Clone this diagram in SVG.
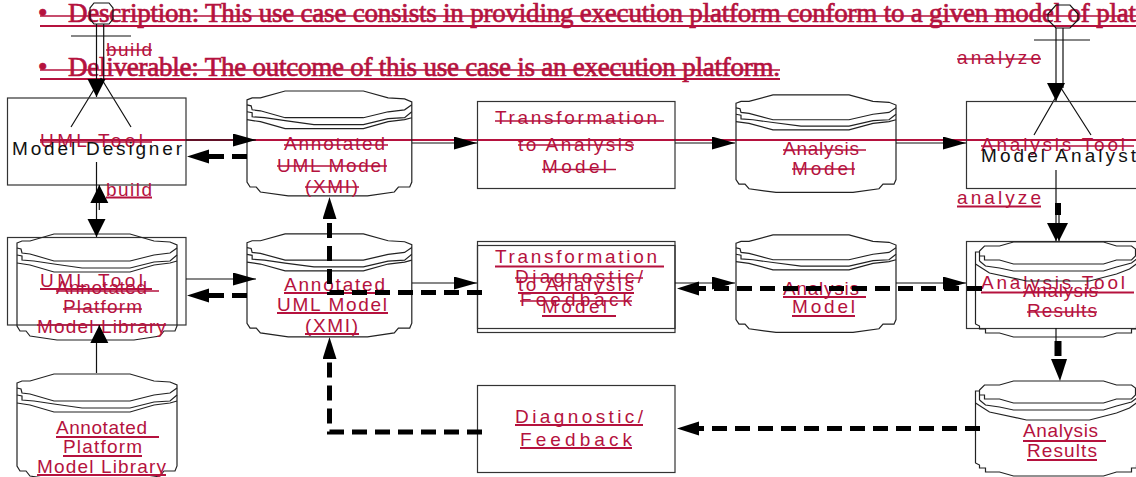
<svg xmlns="http://www.w3.org/2000/svg" width="1136" height="477" viewBox="0 0 1136 477">
<style>
text{font-family:"Liberation Sans",Arial,sans-serif;font-size:19px;fill:#b5123e}
.k{fill:#111}
.b{font-family:"Liberation Serif","Times New Roman",serif;font-size:27px;stroke:#b5123e;stroke-width:.7px}
.box{fill:none;stroke:#333;stroke-width:1.2}
.db{fill:none;stroke:#222;stroke-width:1.2;vector-effect:non-scaling-stroke}
.u{stroke:#b5123e;stroke-width:2.2}
.s{stroke:#b5123e;stroke-width:1.5}
.t{fill:none;stroke:#111;stroke-width:1.2}
.h{fill:none;stroke:#000;stroke-width:5;stroke-dasharray:15 8}
.ah{marker-end:url(#a)}
.ahh{marker-end:url(#ah)}
.ad{marker-end:url(#ad)}
</style>
<defs>
<marker id="a" markerUnits="userSpaceOnUse" markerWidth="24" markerHeight="14" refX="23" refY="6.500" orient="auto"><path d="M0,0L23,6.500L0,13Z" fill="#000"/></marker>
<marker id="ah" markerUnits="userSpaceOnUse" markerWidth="24" markerHeight="16" refX="0" refY="7" orient="auto"><path d="M0,0L22,7L0,14Z" fill="#000"/></marker>
<marker id="ad" markerUnits="userSpaceOnUse" markerWidth="20" markerHeight="20" refX="18" refY="9" orient="auto"><path d="M0,0L18,9L0,18Z" fill="#000"/></marker>
<g id="store">
<path class="db" d="M0,10L5,8L13,8L37,1L113,1L137,8L153,9L160,12L160,93L158,98L147,98L143,103L117,107L40,107L13,103L9,98L3,98L0,93Z"/>
<path class="db" d="M0,15L4,16L5,20L13,21L37,28L113,28L137,22L153,20L160,15"/>
<path class="db" d="M0,22L5,23L5,27L17,28L37,31L65,35L113,35L137,29L153,28L160,22"/>
<path class="db" d="M0,30L13,32L37,39L113,39L137,32L153,30L160,28"/>
</g>
<g id="store2">
<path class="db" d="M4,10H0V82L4,84V87H10V91H24L38,95H128L141,91H156V87H161V84L165,82V10H160"/>
<path class="db" d="M4,19V9L9,4H24L38,0H128L141,4H156L160,7V14L156,18H141L128,22H38L24,18H9V14H4V9"/>
<path class="db" d="M4,19L10,24L24,26L38,29H128L141,25L156,21L165,14"/>
<path class="db" d="M0,22L14,31L51,39H114L141,32L154,27L165,19"/>
</g>
</defs>

<g id="bullets">
<text class="b" x="38" y="22">•</text>
<text class="b" x="68" y="22" textLength="1068" lengthAdjust="spacing">Description: This use case consists in providing execution platform conform to a given model of plat</text>
<line class="s" x1="40" y1="16" x2="1136" y2="16"/>
<line class="u" x1="40" y1="26" x2="1136" y2="26"/>
<text class="b" x="38" y="76">•</text>
<text class="b" x="68" y="76" textLength="712" lengthAdjust="spacing">Deliverable: The outcome of this use case is an execution platform.</text>
<line class="s" x1="40" y1="70" x2="780" y2="70"/>
<line class="u" x1="40" y1="79" x2="780" y2="79"/>
<line class="u" x1="40" y1="140" x2="1136" y2="140"/>
</g>

<g id="actor-designer">
<path class="t" d="M94,3L109,3L113,8L113,19L109,24L94,24L90,19L90,8Z"/>
<path class="t" d="M103.700,24V80M71,36H131M101,78L71,127M101,78L131,127"/>
</g>
<g id="actor-analyst">
<path class="t" d="M1056,5L1070,5L1078,14L1078,20L1070,28L1056,28L1048,20L1048,14Z"/>
<path class="t" d="M1063,28V88M1034,40H1090M1061,88L1034,135M1061,88L1091,135"/>
</g>

<g id="n-model-designer">
<rect class="box" x="7.500" y="98" width="178.500" height="87"/>
<text x="40" y="147" textLength="103" lengthAdjust="spacing">UML Tool</text>
<line class="s" x1="40" y1="142" x2="152" y2="142"/>
<text class="k" x="12" y="155" textLength="170" lengthAdjust="spacing">Model Designer</text>
</g>
<g id="n-uml-tool">
<rect class="box" x="7.500" y="237.500" width="178.500" height="87.500"/>
<text x="40" y="287" textLength="103" lengthAdjust="spacing">UML Tool</text>
<line class="u" x1="40" y1="289" x2="152" y2="289"/>
</g>
<g id="n-platform-1">
<use href="#store" transform="translate(17,233)"/>
<text x="56" y="294" textLength="91" lengthAdjust="spacing">Annotated</text>
<line class="s" x1="56" y1="291" x2="159" y2="291"/>
<text x="63" y="313" textLength="79" lengthAdjust="spacing">Platform</text>
<line class="s" x1="63" y1="309" x2="142" y2="309"/>
<text x="37" y="333" textLength="129" lengthAdjust="spacing">Model Library</text>
<line class="s" x1="37" y1="325" x2="166" y2="325"/>
</g>
<g id="n-platform-2">
<use href="#store" transform="translate(17,373)"/>
<text x="56" y="434" textLength="91" lengthAdjust="spacing">Annotated</text>
<line class="u" x1="56" y1="437" x2="159" y2="437"/>
<text x="63" y="453" textLength="79" lengthAdjust="spacing">Platform</text>
<line class="u" x1="63" y1="456" x2="142" y2="456"/>
<text x="37" y="472.500" textLength="129" lengthAdjust="spacing">Model Library</text>
<line class="u" x1="37" y1="475" x2="166" y2="475"/>
</g>
<g id="n-annotated-1">
<use href="#store" transform="translate(247,90) scale(1.03,.99)"/>
<text x="284" y="150" textLength="101" lengthAdjust="spacing">Annotated</text>
<line class="s" x1="284" y1="145" x2="388" y2="145"/>
<text x="277" y="172" textLength="110" lengthAdjust="spacing">UML Model</text>
<line class="s" x1="277" y1="166" x2="387" y2="166"/>
<text x="305" y="193" textLength="53" lengthAdjust="spacing">(XMI)</text>
<line class="s" x1="305" y1="187" x2="359" y2="187"/>
</g>
<g id="n-annotated-2">
<use href="#store" transform="translate(247,233) scale(1.03,.97)"/>
<text x="284" y="291" textLength="101" lengthAdjust="spacing">Annotated</text>
<line class="u" x1="284" y1="293" x2="388" y2="293"/>
<text x="277" y="311" textLength="110" lengthAdjust="spacing">UML Model</text>
<line class="u" x1="277" y1="313" x2="388" y2="313"/>
<text x="305" y="332" textLength="53" lengthAdjust="spacing">(XMI)</text>
<line class="u" x1="305" y1="334" x2="359" y2="334"/>
</g>
<g id="n-transformation-1">
<rect class="box" x="477.500" y="101.500" width="197.500" height="87"/>
<text x="495" y="124" textLength="162" lengthAdjust="spacing">Transformation</text>
<line class="s" x1="495" y1="121" x2="664" y2="121"/>
<text x="518" y="151" textLength="116" lengthAdjust="spacing">to Analysis</text>
<line class="s" x1="518" y1="145" x2="634" y2="145"/>
<text x="542" y="173" textLength="65" lengthAdjust="spacing">Model</text>
<line class="s" x1="542" y1="169.500" x2="616" y2="169.500"/>
</g>
<g id="n-transformation-2">
<rect class="box" x="477.500" y="245.500" width="197.500" height="83"/>
<text x="495" y="263" textLength="162" lengthAdjust="spacing">Transformation</text>
<line class="u" x1="495" y1="266.500" x2="664" y2="266.500"/>
<text x="518" y="291" textLength="116" lengthAdjust="spacing">to Analysis</text>
<line class="u" x1="518" y1="293" x2="634" y2="293"/>
<text x="542" y="313" textLength="65" lengthAdjust="spacing">Model</text>
<line class="u" x1="542" y1="316" x2="616" y2="316"/>
</g>
<g id="n-diagnostic-1">
<rect class="box" x="477.500" y="241.500" width="197.500" height="91"/>
<text x="515" y="283" textLength="128" lengthAdjust="spacing">Diagnostic/</text>
<line class="s" x1="515" y1="278" x2="643" y2="278"/>
<text x="520" y="306" textLength="112" lengthAdjust="spacing">Feedback</text>
<line class="s" x1="520" y1="301" x2="632" y2="301"/>
</g>
<g id="n-diagnostic-2">
<rect class="box" x="477.500" y="385.500" width="197.500" height="87"/>
<text x="515" y="423" textLength="128" lengthAdjust="spacing">Diagnostic/</text>
<line class="u" x1="515" y1="425" x2="643" y2="425"/>
<text x="520" y="446" textLength="112" lengthAdjust="spacing">Feedback</text>
<line class="u" x1="520" y1="448" x2="632" y2="448"/>
</g>
<g id="n-analysis-model-1">
<use href="#store" transform="translate(736,94) scale(1,.92)"/>
<text x="783" y="155" textLength="76" lengthAdjust="spacing">Analysis</text>
<line class="s" x1="783" y1="150" x2="866" y2="150"/>
<text x="792" y="175" textLength="63" lengthAdjust="spacing">Model</text>
<line class="s" x1="792" y1="169" x2="855" y2="169"/>
</g>
<g id="n-analysis-model-2">
<use href="#store" transform="translate(736,234) scale(1,.92)"/>
<text x="783" y="295" textLength="76" lengthAdjust="spacing">Analysis</text>
<line class="u" x1="783" y1="297" x2="866" y2="297"/>
<text x="792" y="313" textLength="63" lengthAdjust="spacing">Model</text>
<line class="u" x1="792" y1="316" x2="855" y2="316"/>
</g>
<g id="n-model-analyst">
<rect class="box" x="966.500" y="101.500" width="180" height="87"/>
<text x="981" y="151" textLength="144" lengthAdjust="spacing">Analysis Tool</text>
<line class="s" x1="981" y1="146" x2="1134" y2="146"/>
<text class="k" x="981" y="162" textLength="155" lengthAdjust="spacing">Model Analyst</text>
</g>
<g id="n-analysis-tool">
<rect class="box" x="966.500" y="241.500" width="180" height="87"/>
<text x="981" y="289" textLength="144" lengthAdjust="spacing">Analysis Tool</text>
<line class="u" x1="981" y1="292.500" x2="1134" y2="292.500"/>
</g>
<g id="n-results-1">
<use href="#store2" transform="translate(975.500,242)"/>
<text x="1023" y="297" textLength="75" lengthAdjust="spacing">Analysis</text>
<line class="s" x1="1023" y1="292" x2="1098" y2="292"/>
<text x="1027" y="317" textLength="70" lengthAdjust="spacing">Results</text>
<line class="s" x1="1027" y1="312" x2="1097" y2="312"/>
</g>
<g id="n-results-2">
<use href="#store2" transform="translate(975.500,381)"/>
<text x="1023" y="437" textLength="75" lengthAdjust="spacing">Analysis</text>
<line class="u" x1="1023" y1="441" x2="1106" y2="441"/>
<text x="1027" y="457" textLength="70" lengthAdjust="spacing">Results</text>
<line class="u" x1="1027" y1="460" x2="1097" y2="460"/>
</g>

<g id="labels">
<text x="106" y="56" textLength="46" lengthAdjust="spacing">build</text>
<line class="s" x1="106" y1="50" x2="152" y2="50"/>
<text x="106" y="195.500" textLength="46" lengthAdjust="spacing">build</text>
<line class="u" x1="106" y1="197.500" x2="152" y2="197.500"/>
<text x="957" y="64" textLength="84" lengthAdjust="spacing">analyze</text>
<line class="s" x1="957" y1="59" x2="1041" y2="59"/>
<text x="957" y="204" textLength="84" lengthAdjust="spacing">analyze</text>
<line class="u" x1="957" y1="206.500" x2="1041" y2="206.500"/>
</g>

<g id="connectors">
<path class="t ad" d="M96.500,24V97"/>
<path class="t ad" d="M1056,28V101"/>
<path class="t ad" d="M96.500,162V237"/>
<path class="t ad" d="M99.300,210V185"/>
<path class="t ad" d="M1056,170V241"/>
<path class="t ad" d="M1059,210V241"/>
<path d="M1058,203V215" fill="none" stroke="#000" stroke-width="6"/>
<path class="t" d="M96.500,373V343"/>
<path class="t ad" d="M99.300,343V325"/>
<path class="t ah" d="M186,140H256"/>
<path class="t ah" d="M186,279H256"/>
<path class="t ah" d="M412,143H477"/>
<path class="t ah" d="M412,283H477"/>
<path class="t ah" d="M675,143H735"/>
<path class="t ah" d="M675,283H735"/>
<path class="t ah" d="M896,143H966"/>
<path class="t ah" d="M896,283H966"/>
<path class="h ahh" d="M247,156.500H209"/>
<path class="h ahh" d="M247,295.500H209"/>
<path class="h ahh" d="M982,288.500H699"/>
<path class="h ahh" d="M980,428.500H699"/>
<path class="h ahh" d="M482,292.500H329.500V219"/>
<path class="h ahh" d="M482,432H329.500V359"/>
<path class="t" d="M1056,328V342"/>
<path d="M1058,341V356" fill="none" stroke="#000" stroke-width="7"/>
<path d="M1051,359L1067,359L1060,381Z" fill="#000"/>
</g>
</svg>
